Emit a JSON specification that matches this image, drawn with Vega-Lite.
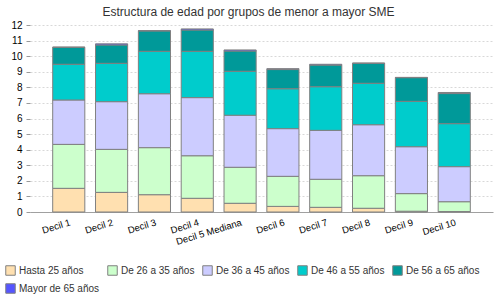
{
  "$schema": "https://vega.github.io/schema/vega-lite/v6.json",
  "autosize": {"type": "none"},
  "width": 463,
  "height": 187,
  "padding": {"left": 30, "top": 25, "right": 7, "bottom": 88},
  "background": "white",
  "title": {"text": "Estructura de edad por grupos de menor a mayor SME", "font": "Liberation Sans", "fontSize": 12, "fontWeight": "normal", "color": "#333333", "offset": 1, "dx": -13},
  "config": {"view": {"stroke": null}, "font": "Liberation Sans"},
  "data": {"values": [
    {"decil": "Decil 1", "grupo": "Hasta 25 años", "orden": 1, "valor": 1.52},
    {"decil": "Decil 1", "grupo": "De 26 a 35 años", "orden": 2, "valor": 2.82},
    {"decil": "Decil 1", "grupo": "De 36 a 45 años", "orden": 3, "valor": 2.85},
    {"decil": "Decil 1", "grupo": "De 46 a 55 años", "orden": 4, "valor": 2.29},
    {"decil": "Decil 1", "grupo": "De 56 a 65 años", "orden": 5, "valor": 1.09},
    {"decil": "Decil 1", "grupo": "Mayor de 65 años", "orden": 6, "valor": 0.01},
    {"decil": "Decil 2", "grupo": "Hasta 25 años", "orden": 1, "valor": 1.26},
    {"decil": "Decil 2", "grupo": "De 26 a 35 años", "orden": 2, "valor": 2.76},
    {"decil": "Decil 2", "grupo": "De 36 a 45 años", "orden": 3, "valor": 3.06},
    {"decil": "Decil 2", "grupo": "De 46 a 55 años", "orden": 4, "valor": 2.46},
    {"decil": "Decil 2", "grupo": "De 56 a 65 años", "orden": 5, "valor": 1.18},
    {"decil": "Decil 2", "grupo": "Mayor de 65 años", "orden": 6, "valor": 0.07},
    {"decil": "Decil 3", "grupo": "Hasta 25 años", "orden": 1, "valor": 1.11},
    {"decil": "Decil 3", "grupo": "De 26 a 35 años", "orden": 2, "valor": 3.02},
    {"decil": "Decil 3", "grupo": "De 36 a 45 años", "orden": 3, "valor": 3.46},
    {"decil": "Decil 3", "grupo": "De 46 a 55 años", "orden": 4, "valor": 2.72},
    {"decil": "Decil 3", "grupo": "De 56 a 65 años", "orden": 5, "valor": 1.31},
    {"decil": "Decil 3", "grupo": "Mayor de 65 años", "orden": 6, "valor": 0.02},
    {"decil": "Decil 4", "grupo": "Hasta 25 años", "orden": 1, "valor": 0.88},
    {"decil": "Decil 4", "grupo": "De 26 a 35 años", "orden": 2, "valor": 2.73},
    {"decil": "Decil 4", "grupo": "De 36 a 45 años", "orden": 3, "valor": 3.73},
    {"decil": "Decil 4", "grupo": "De 46 a 55 años", "orden": 4, "valor": 2.97},
    {"decil": "Decil 4", "grupo": "De 56 a 65 años", "orden": 5, "valor": 1.37},
    {"decil": "Decil 4", "grupo": "Mayor de 65 años", "orden": 6, "valor": 0.07},
    {"decil": "Decil 5 Mediana", "grupo": "Hasta 25 años", "orden": 1, "valor": 0.56},
    {"decil": "Decil 5 Mediana", "grupo": "De 26 a 35 años", "orden": 2, "valor": 2.31},
    {"decil": "Decil 5 Mediana", "grupo": "De 36 a 45 años", "orden": 3, "valor": 3.34},
    {"decil": "Decil 5 Mediana", "grupo": "De 46 a 55 años", "orden": 4, "valor": 2.82},
    {"decil": "Decil 5 Mediana", "grupo": "De 56 a 65 años", "orden": 5, "valor": 1.3},
    {"decil": "Decil 5 Mediana", "grupo": "Mayor de 65 años", "orden": 6, "valor": 0.07},
    {"decil": "Decil 6", "grupo": "Hasta 25 años", "orden": 1, "valor": 0.36},
    {"decil": "Decil 6", "grupo": "De 26 a 35 años", "orden": 2, "valor": 1.93},
    {"decil": "Decil 6", "grupo": "De 36 a 45 años", "orden": 3, "valor": 3.06},
    {"decil": "Decil 6", "grupo": "De 46 a 55 años", "orden": 4, "valor": 2.56},
    {"decil": "Decil 6", "grupo": "De 56 a 65 años", "orden": 5, "valor": 1.23},
    {"decil": "Decil 6", "grupo": "Mayor de 65 años", "orden": 6, "valor": 0.06},
    {"decil": "Decil 7", "grupo": "Hasta 25 años", "orden": 1, "valor": 0.3},
    {"decil": "Decil 7", "grupo": "De 26 a 35 años", "orden": 2, "valor": 1.8},
    {"decil": "Decil 7", "grupo": "De 36 a 45 años", "orden": 3, "valor": 3.14},
    {"decil": "Decil 7", "grupo": "De 46 a 55 años", "orden": 4, "valor": 2.8},
    {"decil": "Decil 7", "grupo": "De 56 a 65 años", "orden": 5, "valor": 1.39},
    {"decil": "Decil 7", "grupo": "Mayor de 65 años", "orden": 6, "valor": 0.05},
    {"decil": "Decil 8", "grupo": "Hasta 25 años", "orden": 1, "valor": 0.24},
    {"decil": "Decil 8", "grupo": "De 26 a 35 años", "orden": 2, "valor": 2.09},
    {"decil": "Decil 8", "grupo": "De 36 a 45 años", "orden": 3, "valor": 3.27},
    {"decil": "Decil 8", "grupo": "De 46 a 55 años", "orden": 4, "valor": 2.66},
    {"decil": "Decil 8", "grupo": "De 56 a 65 años", "orden": 5, "valor": 1.28},
    {"decil": "Decil 8", "grupo": "Mayor de 65 años", "orden": 6, "valor": 0.02},
    {"decil": "Decil 9", "grupo": "Hasta 25 años", "orden": 1, "valor": 0.05},
    {"decil": "Decil 9", "grupo": "De 26 a 35 años", "orden": 2, "valor": 1.13},
    {"decil": "Decil 9", "grupo": "De 36 a 45 años", "orden": 3, "valor": 3.01},
    {"decil": "Decil 9", "grupo": "De 46 a 55 años", "orden": 4, "valor": 2.91},
    {"decil": "Decil 9", "grupo": "De 56 a 65 años", "orden": 5, "valor": 1.52},
    {"decil": "Decil 9", "grupo": "Mayor de 65 años", "orden": 6, "valor": 0.02},
    {"decil": "Decil 10", "grupo": "Hasta 25 años", "orden": 1, "valor": 0.03},
    {"decil": "Decil 10", "grupo": "De 26 a 35 años", "orden": 2, "valor": 0.63},
    {"decil": "Decil 10", "grupo": "De 36 a 45 años", "orden": 3, "valor": 2.25},
    {"decil": "Decil 10", "grupo": "De 46 a 55 años", "orden": 4, "valor": 2.76},
    {"decil": "Decil 10", "grupo": "De 56 a 65 años", "orden": 5, "valor": 1.93},
    {"decil": "Decil 10", "grupo": "Mayor de 65 años", "orden": 6, "valor": 0.07}
  ]},
  "mark": {"type": "bar", "stroke": "#808080", "strokeWidth": 1},
  "encoding": {
    "x": {
      "field": "decil", "type": "nominal", "sort": null,
      "scale": {"paddingInner": 0.25, "paddingOuter": 0.53},
      "axis": {"title": null, "labelAngle": -17, "labelFontSize": 9.5, "labelColor": "#000000", "labelPadding": 5, "ticks": false, "domainColor": "#a0a0a0", "domainWidth": 1, "grid": false}
    },
    "y": {
      "field": "valor", "type": "quantitative", "stack": "zero",
      "scale": {"domain": [0, 12], "nice": false},
      "axis": {"title": null, "values": [0,1,2,3,4,5,6,7,8,9,10,11,12], "labelFontSize": 10, "labelColor": "#000000", "labelPadding": 4, "tickColor": "#999999", "tickSize": 4, "domain": false, "gridColor": "#d8d8d8", "gridDash": [2, 2]}
    },
    "color": {
      "field": "grupo", "type": "nominal",
      "scale": {
        "domain": ["Hasta 25 años", "De 26 a 35 años", "De 36 a 45 años", "De 46 a 55 años", "De 56 a 65 años", "Mayor de 65 años"],
        "range": ["#ffe0b0", "#ccffcc", "#ccccff", "#00cccc", "#009999", "#5555ff"]
      },
      "legend": {"title": null, "orient": "none", "legendX": -25, "legendY": 240, "direction": "horizontal", "columns": 5, "gridAlign": "none", "symbolType": "square", "symbolSize": 90, "symbolStrokeColor": "#808080", "symbolStrokeWidth": 1, "symbolOpacity": 1, "labelFontSize": 10, "labelColor": "#333333", "labelOffset": 3, "columnPadding": 5, "rowPadding": 3}
    },
    "order": {"field": "orden", "type": "quantitative"}
  }
}
